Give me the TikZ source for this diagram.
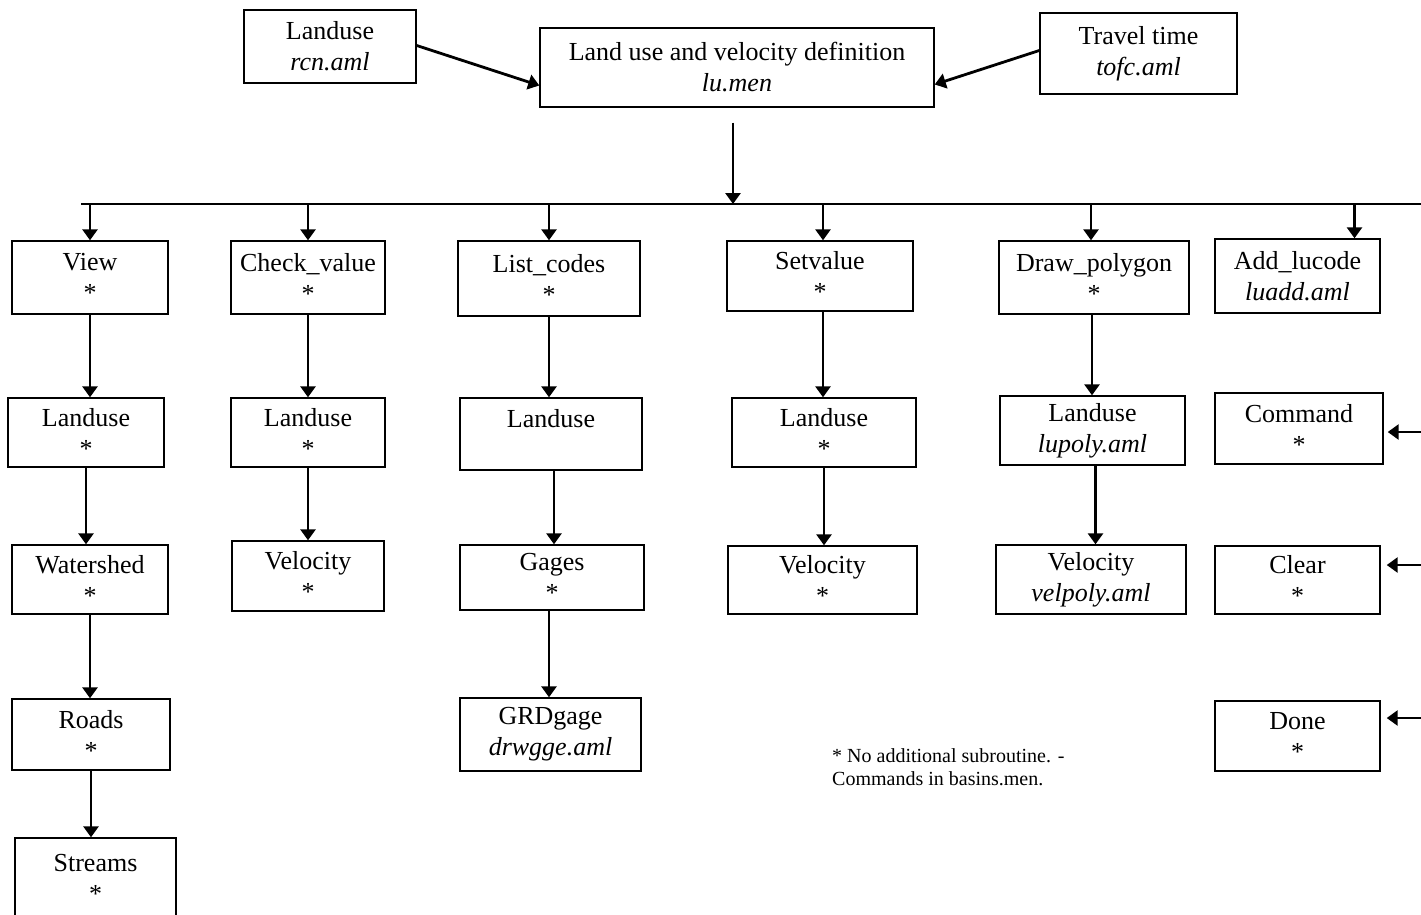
\documentclass[tikz,border=0pt]{standalone}
\usepackage{fontspec}
\setmainfont{Liberation Serif}
\usetikzlibrary{arrows.meta}
\begin{document}
\begin{tikzpicture}[x=1pt,y=-1pt,
  box/.style={draw, line width=1.4pt, align=center, inner sep=0pt,
    font=\fontsize{26}{31}\selectfont},
  arr/.style={line width=2.8pt, -{Triangle[length=11pt,width=15pt]}},
  bline/.style={line width=1.6pt}]
\useasboundingbox (0,0) rectangle (1421,914);
\clip (0,0) rectangle (1421,914);
% top row
\node[box, minimum width=172pt, minimum height=73pt] (rcn) at (330,46.5) {Landuse\\\textit{rcn.aml}};
\node[box, minimum width=394pt, minimum height=79pt] (lu) at (737,67.5) {Land use and velocity definition\\\textit{lu.men}};
\node[box, minimum width=197pt, minimum height=81pt] (tofc) at (1138.5,53.5) {Travel time\\\textit{tofc.aml}};
% row 1
\node[box, minimum width=156pt, minimum height=73pt] (view) at (90,277.5) {View\\*};
\node[box, minimum width=154pt, minimum height=73pt] (check) at (308,277.5) {Check\_value\\*};
\node[box, minimum width=182pt, minimum height=75pt] (list) at (549,278.5) {List\_codes\\*};
\node[box, minimum width=186pt, minimum height=70pt] (setv) at (820,276) {Setvalue\\*};
\node[box, minimum width=190pt, minimum height=73pt] (drawp) at (1094,277.5) {Draw\_polygon\\*};
\node[box, minimum width=165pt, minimum height=74pt] (addlu) at (1297.5,276) {Add\_lucode\\\textit{luadd.aml}};
% row 2
\node[box, minimum width=156pt, minimum height=69pt] (luA) at (86,432.5) {Landuse\\*};
\node[box, minimum width=154pt, minimum height=69pt] (luB) at (308,432.5) {Landuse\\*};
\node[box, minimum width=182pt, minimum height=72pt] (luC) at (551,434) {Landuse\\\phantom{*}};
\node[box, minimum width=184pt, minimum height=69pt] (luD) at (824,432.5) {Landuse\\*};
\node[box, minimum width=185pt, minimum height=69pt] (luE) at (1092.5,430.5) {Landuse\\\textit{lupoly.aml}};
\node[box, minimum width=168pt, minimum height=71pt] (cmd) at (1299,428.5) {Command\\*};
% row 3
\node[box, minimum width=156pt, minimum height=69pt] (ws) at (90,579.5) {Watershed\\*};
\node[box, minimum width=152pt, minimum height=70pt] (velB) at (308,576) {Velocity\\*};
\node[box, minimum width=184pt, minimum height=65pt] (gages) at (552,577.5) {Gages\\*};
\node[box, minimum width=189pt, minimum height=68pt] (velD) at (822.5,580) {Velocity\\*};
\node[box, minimum width=190pt, minimum height=69pt] (velE) at (1091,579.5) {Velocity\\\textit{velpoly.aml}};
\node[box, minimum width=165pt, minimum height=68pt] (clear) at (1297.5,580) {Clear\\*};
% row 4
\node[box, minimum width=158pt, minimum height=71pt] (roads) at (91,734.5) {Roads\\*};
\node[box, minimum width=181pt, minimum height=73pt] (grd) at (550.5,734.5) {GRDgage\\\textit{drwgge.aml}};
\node[box, minimum width=165pt, minimum height=70pt] (done) at (1297.5,736) {Done\\*};
% row 5
\node[box, minimum width=161pt, minimum height=80pt] (streams) at (95.5,878) {Streams\\*};
% note
\node[anchor=north west, align=left, inner sep=0pt, font=\fontsize{20}{23}\selectfont] (note) at (832,748)
  {* No additional subroutine. -\\Commands in basins.men.};
% bus
\coordinate (busL) at (81,204);
\coordinate (busR) at (1440,204);
\coordinate (busC) at (733,204);
\draw[bline] (busL) -- (busR);
% top arrows
\draw[arr] ([yshift=1pt]rcn.east) -- ([yshift=-18pt]lu.west);
\draw[arr] ([yshift=3pt]tofc.west) -- ([yshift=-17pt]lu.east);
\draw[arr] ([shift={(-4pt,-15pt)}]lu.south) -- (busC);
% drops
\draw[arr] (view.north |- busL) -- (view.north);
\draw[arr] (check.north |- busL) -- (check.north);
\draw[arr] (list.north |- busL) -- (list.north);
\draw[arr] ([xshift=3pt]setv.north |- busL) -- ([xshift=3pt]setv.north);
\draw[arr] ([xshift=-3pt]drawp.north |- busL) -- ([xshift=-3pt]drawp.north);
\draw[arr] ([xshift=57pt]addlu.north |- busL) -- ([xshift=57pt]addlu.north);
% columns
\draw[arr] (view.south) -- (view.south |- luA.north);
\draw[arr] (luA.south) -- (luA.south |- ws.north);
\draw[arr] (ws.south) -- (ws.south |- roads.north);
\draw[arr] (roads.south) -- (roads.south |- streams.north);
\draw[arr] (check.south) -- (check.south |- luB.north);
\draw[arr] (luB.south) -- (luB.south |- velB.north);
\draw[arr] (list.south) -- (list.south |- luC.north);
\draw[arr] ([xshift=3pt]luC.south) -- ([xshift=3pt]luC.south |- gages.north);
\draw[arr] ([xshift=-3pt]gages.south) -- ([xshift=-3pt]gages.south |- grd.north);
\draw[arr] ([xshift=3pt]setv.south) -- ([xshift=3pt]setv.south |- luD.north);
\draw[arr] (luD.south) -- (luD.south |- velD.north);
\draw[arr] ([xshift=-2pt]drawp.south) -- ([xshift=-2pt]drawp.south |- luE.north);
\draw[arr] ([xshift=3pt]luE.south) -- ([xshift=3pt]luE.south |- velE.north);
% incoming from right
\coordinate (inA) at (1440,432);
\coordinate (inB) at (1440,565);
\coordinate (inC) at (1440,718);
\coordinate (cmdE) at ([xshift=4pt]cmd.east);
\coordinate (clearE) at ([xshift=6pt]clear.east);
\coordinate (doneE) at ([xshift=6pt]done.east);
\draw[arr] (inA) -- (inA -| cmdE);
\draw[arr] (inB) -- (inB -| clearE);
\draw[arr] (inC) -- (inC -| doneE);
\end{tikzpicture}
\end{document}
